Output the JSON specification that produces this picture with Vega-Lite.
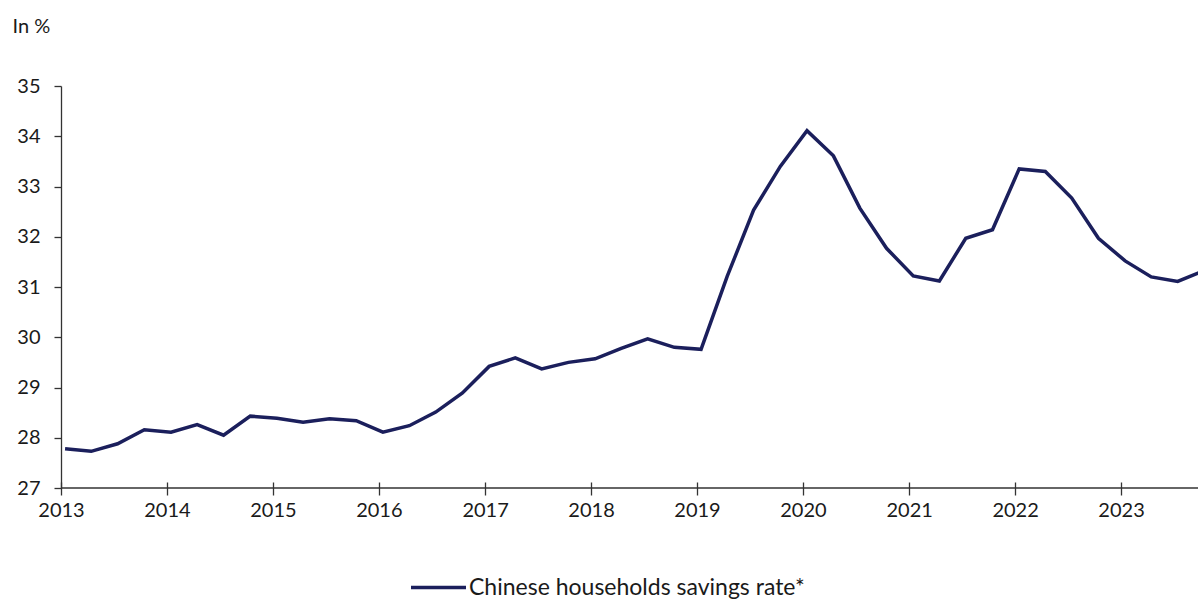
{
  "$schema": "https://vega.github.io/schema/vega-lite/v6.json",
  "width": 1137,
  "height": 402,
  "autosize": {"type": "none"},
  "padding": {"left": 61, "top": 86, "right": 0, "bottom": 111},
  "background": "white",
  "config": {
    "view": {"stroke": null},
    "font": "Lato",
    "axisX": {
      "domain": false,
      "offset": -6,
      "tickSize": 13,
      "tickColor": "#333333",
      "tickWidth": 1.3,
      "labelPadding": 5,
      "labelFontSize": 20,
      "labelColor": "#1a1a1a",
      "labelFlush": false,
      "labelOverlap": false,
      "grid": false,
      "format": "%Y",
      "tickCount": {"interval": "year", "step": 1}
    },
    "axisY": {
      "domainColor": "#333333",
      "domainWidth": 1.3,
      "tickColor": "#333333",
      "tickWidth": 1.3,
      "tickSize": 7,
      "labelPadding": 14,
      "labelFontSize": 20,
      "labelColor": "#1a1a1a",
      "grid": false,
      "values": [27, 28, 29, 30, 31, 32, 33, 34, 35],
      "titleAngle": 0,
      "titleX": -49,
      "titleY": -54,
      "titleAlign": "left",
      "titleBaseline": "alphabetic",
      "titleFontSize": 20,
      "titleFontWeight": "normal",
      "titleColor": "#1a1a1a"
    }
  },
  "layer": [
    {
      "data": {"values": [{"base": 27}]},
      "mark": {"type": "rule", "color": "#333333", "strokeWidth": 1.3},
      "encoding": {
        "y": {"field": "base", "type": "quantitative", "title": "In %", "scale": {"domain": [27, 35], "nice": false, "zero": false}}
      }
    },
    {
      "data": {
        "values": [
          {"date": "2013-01-15", "value": 27.78, "series": "Chinese households savings rate*"},
          {"date": "2013-04-15", "value": 27.73, "series": "Chinese households savings rate*"},
          {"date": "2013-07-15", "value": 27.88, "series": "Chinese households savings rate*"},
          {"date": "2013-10-15", "value": 28.16, "series": "Chinese households savings rate*"},
          {"date": "2014-01-15", "value": 28.11, "series": "Chinese households savings rate*"},
          {"date": "2014-04-15", "value": 28.26, "series": "Chinese households savings rate*"},
          {"date": "2014-07-15", "value": 28.05, "series": "Chinese households savings rate*"},
          {"date": "2014-10-15", "value": 28.43, "series": "Chinese households savings rate*"},
          {"date": "2015-01-15", "value": 28.39, "series": "Chinese households savings rate*"},
          {"date": "2015-04-15", "value": 28.31, "series": "Chinese households savings rate*"},
          {"date": "2015-07-15", "value": 28.38, "series": "Chinese households savings rate*"},
          {"date": "2015-10-15", "value": 28.34, "series": "Chinese households savings rate*"},
          {"date": "2016-01-15", "value": 28.11, "series": "Chinese households savings rate*"},
          {"date": "2016-04-15", "value": 28.24, "series": "Chinese households savings rate*"},
          {"date": "2016-07-15", "value": 28.51, "series": "Chinese households savings rate*"},
          {"date": "2016-10-15", "value": 28.89, "series": "Chinese households savings rate*"},
          {"date": "2017-01-15", "value": 29.42, "series": "Chinese households savings rate*"},
          {"date": "2017-04-15", "value": 29.59, "series": "Chinese households savings rate*"},
          {"date": "2017-07-15", "value": 29.37, "series": "Chinese households savings rate*"},
          {"date": "2017-10-15", "value": 29.50, "series": "Chinese households savings rate*"},
          {"date": "2018-01-15", "value": 29.57, "series": "Chinese households savings rate*"},
          {"date": "2018-04-15", "value": 29.78, "series": "Chinese households savings rate*"},
          {"date": "2018-07-15", "value": 29.97, "series": "Chinese households savings rate*"},
          {"date": "2018-10-15", "value": 29.80, "series": "Chinese households savings rate*"},
          {"date": "2019-01-15", "value": 29.76, "series": "Chinese households savings rate*"},
          {"date": "2019-04-15", "value": 31.21, "series": "Chinese households savings rate*"},
          {"date": "2019-07-15", "value": 32.53, "series": "Chinese households savings rate*"},
          {"date": "2019-10-15", "value": 33.40, "series": "Chinese households savings rate*"},
          {"date": "2020-01-15", "value": 34.11, "series": "Chinese households savings rate*"},
          {"date": "2020-04-15", "value": 33.61, "series": "Chinese households savings rate*"},
          {"date": "2020-07-15", "value": 32.57, "series": "Chinese households savings rate*"},
          {"date": "2020-10-15", "value": 31.77, "series": "Chinese households savings rate*"},
          {"date": "2021-01-15", "value": 31.22, "series": "Chinese households savings rate*"},
          {"date": "2021-04-15", "value": 31.12, "series": "Chinese households savings rate*"},
          {"date": "2021-07-15", "value": 31.97, "series": "Chinese households savings rate*"},
          {"date": "2021-10-15", "value": 32.14, "series": "Chinese households savings rate*"},
          {"date": "2022-01-15", "value": 33.35, "series": "Chinese households savings rate*"},
          {"date": "2022-04-15", "value": 33.30, "series": "Chinese households savings rate*"},
          {"date": "2022-07-15", "value": 32.77, "series": "Chinese households savings rate*"},
          {"date": "2022-10-15", "value": 31.97, "series": "Chinese households savings rate*"},
          {"date": "2023-01-15", "value": 31.52, "series": "Chinese households savings rate*"},
          {"date": "2023-04-15", "value": 31.20, "series": "Chinese households savings rate*"},
          {"date": "2023-07-15", "value": 31.11, "series": "Chinese households savings rate*"},
          {"date": "2023-10-15", "value": 31.33, "series": "Chinese households savings rate*"}
        ]
      },
      "mark": {"type": "line", "strokeWidth": 3.5, "clip": true, "strokeJoin": "miter"},
      "encoding": {
        "x": {
          "field": "date",
          "type": "temporal",
          "title": null,
          "scale": {"type": "utc", "domain": [{"year": 2013, "month": 1, "date": 1, "utc": true}, {"year": 2023, "month": 9, "date": 23, "utc": true}]}
        },
        "y": {"field": "value", "type": "quantitative", "title": "In %", "scale": {"domain": [27, 35], "nice": false, "zero": false}},
        "color": {
          "field": "series",
          "type": "nominal",
          "scale": {"range": ["#1b1f5c"]},
          "legend": {
            "orient": "none",
            "legendX": 348,
            "legendY": 472,
            "title": null,
            "padding": 0,
            "symbolType": "stroke",
            "symbolSize": 3025,
            "symbolStrokeWidth": 3.5,
            "labelFontSize": 23,
            "labelLimit": 0,
            "labelColor": "#1a1a1a",
            "labelOffset": 1
          }
        }
      }
    }
  ]
}
